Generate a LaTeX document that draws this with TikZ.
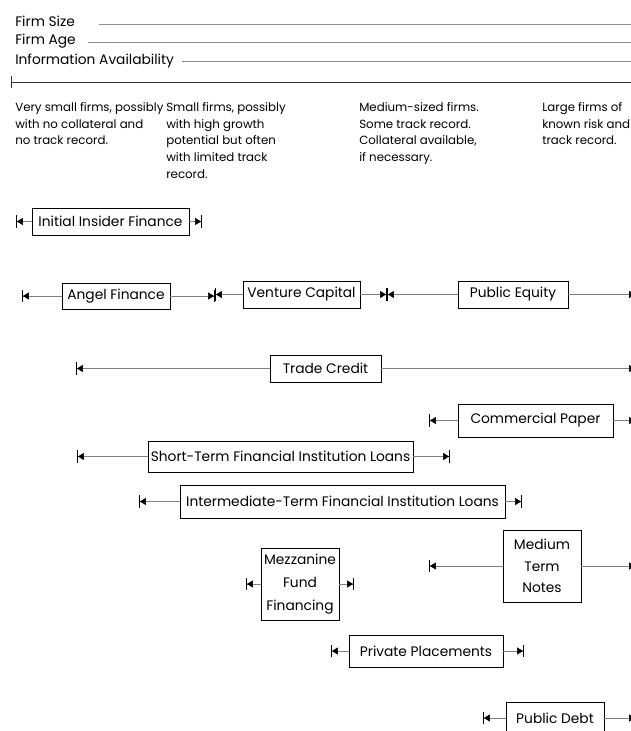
\documentclass[tikz,border=0pt]{standalone}
\usepackage{fontspec}
\setmainfont{Poppins}
\usetikzlibrary{arrows.meta}

\tikzset{
  fin/.style={draw, line width=0.5pt, inner xsep=1pt, inner ysep=0pt},
  hdr/.style={anchor=west, inner sep=0pt},
  desc/.style={anchor=north west, inner sep=0pt, align=left, font=\fontsize{8.4}{11.9}\selectfont},
  guide/.style={line width=0.3pt, black!45},
  span/.style={line width=0.35pt, black!50,
    -{Triangle[length=4.2pt, width=5pt, color=black, sep=0pt] Bar[width=9pt, line width=0.7pt, color=black]}}
}

\begin{document}
\begin{tikzpicture}[x=0.025cm, y=-0.025cm, font=\fontsize{9.8}{11.9}\selectfont]
    \useasboundingbox (0,0) rectangle (631,731);

    % firm characteristics
    \node[hdr] (size) at (15,21) {Firm Size};
    \node[hdr] (age) at (15,41) {Firm Age};
    \node[hdr] (info) at (15,61) {Information Availability};
    \draw[guide] ([xshift=0.6cm, yshift=-2pt]size.east) -- ++(560,0);
    \draw[guide] ([xshift=0.3cm, yshift=-1pt]age.east) -- ++(560,0);
    \draw[guide] ([xshift=0.2cm]info.east) -- ++(560,0);
    \draw[line width=0.6pt, black!80, {Bar[width=9pt]}-] (11,82) -- (640,82);

    \node[desc] (c1) at (15,102) {Very small firms, possibly\\with no collateral and\\no track record.};
    \node[desc] (c2) at (166,102) {Small firms, possibly\\with high growth\\potential but often\\with limited track\\record.};
    \node[desc] (c3) at (359,102) {Medium-sized firms.\\Some track record.\\Collateral available,\\if necessary.};
    \node[desc] (c4) at (542,102) {Large firms of\\known risk and\\track record.};

    % sources of finance
    \node[fin, minimum width=3.925cm, minimum height=0.675cm] (insider) at (110.5,221.5) {Initial Insider Finance};
    \node[fin, minimum width=2.7cm, minimum height=0.65cm] (angel) at (116,296) {Angel Finance};
    \node[fin, minimum width=2.925cm, minimum height=0.675cm] (venture) at (301.5,294.5) {Venture Capital};
    \node[fin, minimum width=2.75cm, minimum height=0.675cm] (pubeq) at (513,294.5) {Public Equity};
    \node[fin, minimum width=2.775cm, minimum height=0.675cm] (trade) at (325.5,368.5) {Trade Credit};
    \node[fin, minimum width=3.875cm, minimum height=0.825cm] (cpaper) at (535.5,420.5) {Commercial Paper};
    \node[fin, minimum width=6.625cm, minimum height=0.775cm] (stloans) at (280.5,456.5) {Short-Term Financial Institution Loans};
    \node[fin, minimum width=8.125cm, minimum height=0.825cm] (itloans) at (342.5,501.5) {Intermediate-Term Financial Institution Loans};
    \node[fin, minimum width=1.95cm, minimum height=1.8cm, align=center,
          font=\fontsize{9.8}{16.2}\selectfont] (mezz) at (300,584) {Mezzanine\\Fund\\Financing};
    \node[fin, minimum width=1.95cm, minimum height=1.8cm, align=center,
          font=\fontsize{9.8}{15.3}\selectfont] (mtn) at (542,566) {Medium\\Term\\Notes};
    \node[fin, minimum width=3.85cm, minimum height=0.8cm] (privpl) at (426,651) {Private Placements};
    \node[fin, minimum width=2.45cm, minimum height=0.8cm] (pubdebt) at (555,718) {Public Debt};

    % range ends
    \coordinate (insiderL) at (16,221.5);   \coordinate (insiderR) at (202,221.5);
    \coordinate (angelL) at (22,296);       \coordinate (angelR) at (215,296);
    \coordinate (ventureL) at (215,294.5);  \coordinate (ventureR) at (387,294.5);
    \coordinate (pubeqL) at (387,294.5);    \coordinate (pubeqR) at (636,294.5);
    \coordinate (tradeL) at (76,368.5);     \coordinate (tradeR) at (636,368.5);
    \coordinate (cpaperL) at (429,420.5);   \coordinate (cpaperR) at (636,420.5);
    \coordinate (stloansL) at (77,456.5);   \coordinate (stloansR) at (450,456.5);
    \coordinate (itloansL) at (139,501.5);  \coordinate (itloansR) at (522,501.5);
    \coordinate (mezzL) at (246,584);       \coordinate (mezzR) at (354,584);
    \coordinate (mtnL) at (429,566);        \coordinate (mtnR) at (636,566);
    \coordinate (privplL) at (331,651);     \coordinate (privplR) at (524,651);
    \coordinate (pubdebtL) at (483,718);    \coordinate (pubdebtR) at (636,718);

    \foreach \f in {insider,angel,venture,pubeq,trade,cpaper,stloans,itloans,mezz,mtn,privpl,pubdebt} {
      \draw[span] (\f.west) -- (\f L);
      \draw[span] (\f.east) -- (\f R);
    }
\end{tikzpicture}
\end{document}
